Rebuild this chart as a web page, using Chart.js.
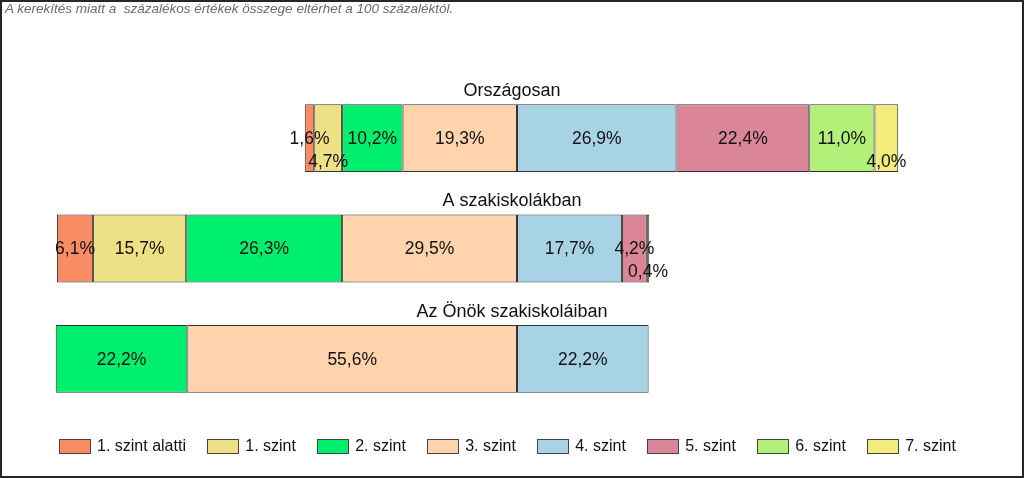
<!DOCTYPE html>
<html>
<head>
<meta charset="utf-8">
<script src="https://cdn.jsdelivr.net/npm/chart.js@4/dist/chart.umd.min.js"></script>
<style>
  body { margin: 0; background: #fff; font-family: "Liberation Sans", Arial, sans-serif; }
  #wrap { position: relative; width: 1024px; height: 478px; overflow: hidden; }
  #chart { position: absolute; left: 0; top: 0; }
  #frame { position: absolute; left: 0; top: 0; width: 1024px; height: 478px; box-sizing: border-box; border: 2px solid #262626; pointer-events: none; }
  #note { position: absolute; left: 5px; top: 1px; font-size: 13.5px; font-style: italic; color: #6b6b6b; white-space: pre; }
  #legend { position: absolute; left: 59px; top: 437px; height: 18px; display: flex; }
  .item { position: relative; height: 18px; white-space: nowrap; font-size: 16px; color: #111; padding-left: 38px; margin-right: 21.3px; line-height: 18px; }
  .box { position: absolute; left: 0; top: 2px; width: 30px; height: 13px; border: 1px solid #444; }
</style>
</head>
<body>
<div id="wrap">
  <canvas id="chart" width="1024" height="478"></canvas>
  <div id="note">A kerekítés miatt a  százalékos értékek összege eltérhet a 100 százaléktól.</div>
  <div id="legend"></div>
  <div id="frame"></div>
</div>
<script>
const groups = ['Országosan', 'A szakiskolákban', 'Az Önök szakiskoláiban'];
const levels = ['1. szint alatti', '1. szint', '2. szint', '3. szint', '4. szint', '5. szint', '6. szint', '7. szint'];
const colors = ['#FA8C64', '#EEE084', '#00EE6E', '#FFD3AC', '#A8D3E5', '#DA8598', '#B2F07A', '#F2EC7C'];

// share of students per level, one array per group (percent)
const orszagos = [1.6, 4.7, 10.2, 19.3, 26.9, 22.4, 11.0, 4.0];
const szakiskolak = [6.1, 15.7, 26.3, 29.5, 17.7, 4.2, 0.4, 0];
const onok = [0, 0, 22.2, 55.6, 22.2, 0, 0, 0];
const rows = [orszagos, szakiskolak, onok];

// levels below 4. szint sit left of zero, the rest to the right
const splitAt = 4;

function buildRanges(values) {
    let start = -values.slice(0, splitAt).reduce((a, b) => a + b, 0);
    return values.map(v => {
        const r = [start, start + v];
        start += v;
        return r;
    });
}

const ranges = rows.map(buildRanges);

const datasets = levels.map((name, i) => ({
    label: name,
    data: ranges.map((r, k) => rows[k][i] ? r[i] : null),
    backgroundColor: colors[i],
    borderColor: '#333333',
    borderWidth: 1,
    borderSkipped: false,
    grouped: false,
    categoryPercentage: 1,
    barPercentage: 0.615
}));

function fmt(v) {
    return v.toFixed(1).replace('.', ',') + '%';
}

// group titles above the bars and value labels inside them
const labelPlugin = {
    id: 'labelPlugin',
    afterDatasetsDraw(chart) {
        const ctx = chart.ctx;
        const yScale = chart.scales.y;
        const xScale = chart.scales.x;
        ctx.save();
        ctx.fillStyle = '#111';
        ctx.textBaseline = 'middle';
        ctx.textAlign = 'center';

        groups.forEach((g, r) => {
            const yc = yScale.getPixelForValue(r);
            ctx.font = '18px "Liberation Sans", Arial, sans-serif';
            ctx.fillText(g, 512, yc - 47);

            ctx.font = '17.5px "Liberation Sans", Arial, sans-serif';
            const barEnd = xScale.getPixelForValue(ranges[r][levels.length - 1][1]);
            let lastIdx = -1;
            rows[r].forEach((v, i) => { if (v) lastIdx = i; });
            let prevRight = -Infinity;
            rows[r].forEach((v, i) => {
                if (!v) return;
                const x0 = xScale.getPixelForValue(ranges[r][i][0]);
                const x1 = xScale.getPixelForValue(ranges[r][i][1]);
                const xc = (x0 + x1) / 2;
                const text = fmt(v);
                const w = ctx.measureText(text).width;
                let y = yc + 1;
                const collides = xc - w / 2 < prevRight - 2;
                const overEnd = i === lastIdx && xc + w / 2 > barEnd + 4;
                if (collides || overEnd) {
                    y = yc + 24;
                } else {
                    prevRight = xc + w / 2;
                }
                ctx.fillText(text, xc, y);
            });
        });
        ctx.restore();
    }
};

new Chart(document.getElementById('chart'), {
    type: 'bar',
    data: { labels: groups, datasets: datasets },
    options: {
        indexAxis: 'y',
        responsive: false,
        animation: false,
        layout: { padding: { left: 19, right: 9, top: 83, bottom: 64 } },
        scales: {
            x: { type: 'linear', min: -84, max: 84, display: false },
            y: { type: 'category', display: false }
        },
        plugins: {
            legend: { display: false },
            tooltip: { enabled: false }
        }
    },
    plugins: [labelPlugin]
});

// legend built from the level names and colours
const legend = document.getElementById('legend');
levels.forEach((name, i) => {
    const item = document.createElement('div');
    item.className = 'item';
    item.innerHTML = '<div class="box" style="background:' + colors[i] + '"></div>' + name;
    legend.appendChild(item);
});
</script>
</body>
</html>
